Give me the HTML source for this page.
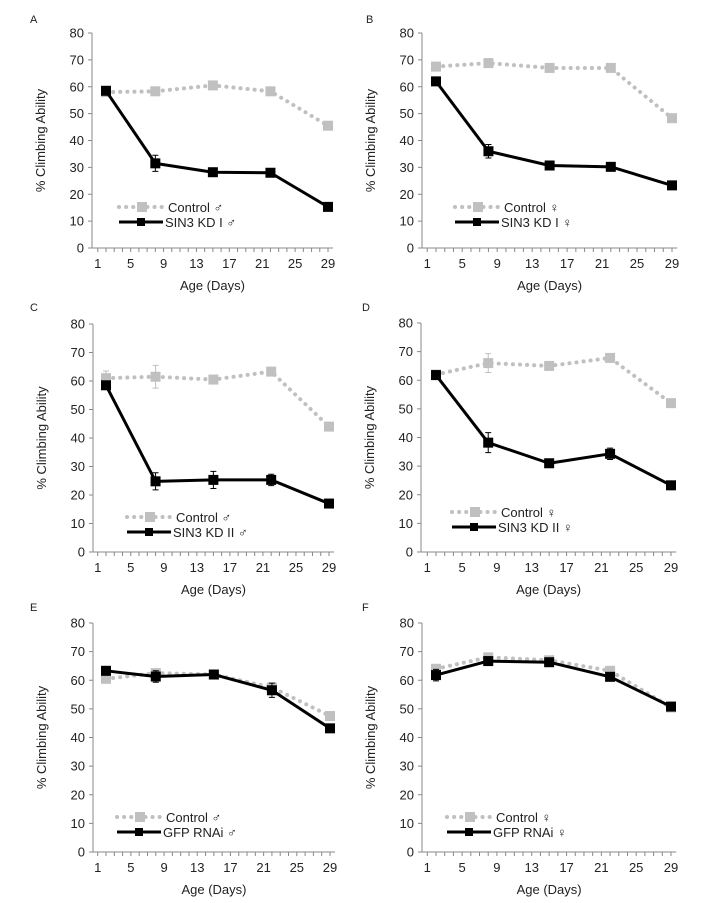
<!DOCTYPE html>
<html><head><meta charset="utf-8">
<style>
html,body{margin:0;padding:0;background:#fff;}
svg{display:block;font-family:"Liberation Sans",Arial,sans-serif;}
</style></head>
<body>
<svg id="fig" width="720" height="903" viewBox="0 0 720 903" xmlns="http://www.w3.org/2000/svg"></svg>
<script>
const days = [2, 8, 15, 22, 29];
const yTicks = [0, 10, 20, 30, 40, 50, 60, 70, 80];
const xTickLabels = [1, 5, 9, 13, 17, 21, 25, 29];
const panelLetters = ["A", "B", "C", "D", "E", "F"];
const controlLabels = ["Control ♂", "Control ♀", "Control ♂", "Control ♀", "Control ♂", "Control ♀"];
const testLabels = ["SIN3 KD I ♂", "SIN3 KD I ♀", "SIN3 KD II ♂", "SIN3 KD II ♀", "GFP RNAi ♂", "GFP RNAi ♀"];
const controlA = [58, 58.3, 60.5, 58.3, 45.5];
const testA = [58.5, 31.5, 28.2, 28, 15.3];
const testErrA = [0.8, 3, 0.8, 0.8, 0.8];
const controlB = [67.5, 68.8, 67, 67, 48.3];
const testB = [62, 36, 30.7, 30.2, 23.3];
const testErrB = [1, 2.5, 1, 1, 1];
const controlC = [61, 61.5, 60.5, 63.3, 44];
const controlErrC = [2.5, 4, 0.5, 0.5, 0.5];
const testC = [58.5, 24.8, 25.3, 25.3, 17];
const testErrC = [0.8, 3, 3, 2, 0.8];
const controlD = [62, 66, 65, 67.8, 52];
const controlErrD = [0.5, 3.3, 0.5, 0.5, 0.5];
const testD = [61.8, 38.2, 31, 34.3, 23.3];
const testErrD = [1.5, 3.5, 1, 2, 1.5];
const controlE = [60.5, 62.5, 62, 57.5, 47.5];
const testE = [63.3, 61.3, 62, 56.5, 43.2];
const testErrE = [1.5, 2, 1.2, 2.5, 0.8];
const controlF = [64, 68, 67, 63.3, 50.5];
const testF = [61.8, 66.7, 66.3, 61.2, 50.8];
const testErrF = [2, 0.8, 0.8, 0.8, 0.8];

const controls = [controlA, controlB, controlC, controlD, controlE, controlF];
const controlErrs = [null, null, controlErrC, controlErrD, null, null];
const tests = [testA, testB, testC, testD, testE, testF];
const testErrs = [testErrA, testErrB, testErrC, testErrD, testErrE, testErrF];

// layout per panel: axis x, y0 pixel, y80 pixel, day2 pixel, day29 pixel, legend line x, legend y
const layout = [
  {ax:92, y0:248, y80:33, d2:106, d29:328, lx:119, ly:207, lx0:30, ly0:23},
  {ax:422, y0:248, y80:33, d2:436, d29:672, lx:455, ly:207, lx0:366, ly0:23},
  {ax:93, y0:552, y80:324, d2:106, d29:329, lx:127, ly:517, lx0:30, ly0:311},
  {ax:421, y0:552, y80:323, d2:436, d29:671, lx:452, ly:512, lx0:362, ly0:311},
  {ax:93, y0:852, y80:623, d2:106, d29:330, lx:117, ly:817, lx0:30, ly0:611},
  {ax:422, y0:852, y80:623, d2:436, d29:671, lx:447, ly:817, lx0:362, ly0:611}
];

const NS = "http://www.w3.org/2000/svg";
const svg = document.getElementById("fig");
function mk(tag, attrs, parent) {
  const e = document.createElementNS(NS, tag);
  for (const k in attrs) e.setAttribute(k, attrs[k]);
  (parent || svg).appendChild(e);
  return e;
}
const GRAY = "#c0c0c0";

for (let p = 0; p < 6; p++) {
  const L = layout[p];
  const g = mk("g", {});
  
  
  const xs = d => L.d2 + (d - 2) * (L.d29 - L.d2) / 27;
  const ys = v => L.y0 - v * (L.y0 - L.y80) / 80;
  const xEnd = xs(29.6);

  const lt = mk("text", {x: L.lx0, y: L.ly0, "font-size": 11, fill: "#222"}, g);
  lt.textContent = panelLetters[p];
  
  

  // axes
  const ya = mk("line", {x1: L.ax, y1: L.y80, x2: L.ax, y2: L.y0, stroke: "#888", "stroke-width": 1}, g);
  
  
  const xa = mk("line", {x1: L.ax, y1: L.y0, x2: xEnd, y2: L.y0, stroke: "#888", "stroke-width": 1}, g);
  
  

  yTicks.forEach(v => {
    mk("line", {x1: L.ax - 4, y1: ys(v), x2: L.ax, y2: ys(v), stroke: "#888"}, g);
    const t = mk("text", {x: L.ax - 8, y: ys(v) + 4.5, "font-size": 13, "text-anchor": "end", fill: "#222"}, g);
    t.textContent = v;
    
    
  });
  for (let d = 1; d <= 29; d++) {
    mk("line", {x1: xs(d), y1: L.y0, x2: xs(d), y2: L.y0 + 4, stroke: "#888"}, g);
  }
  xTickLabels.forEach(d => {
    const t = mk("text", {x: xs(d), y: L.y0 + 20, "font-size": 13, "text-anchor": "middle", fill: "#222"}, g);
    t.textContent = d;
    
    
  });
  const xt = mk("text", {x: (L.ax + xEnd) / 2, y: L.y0 + 42, "font-size": 13, "text-anchor": "middle", fill: "#222"}, g);
  xt.textContent = "Age (Days)";
  
  
  const ytx = L.ax - 47, yty = (L.y0 + L.y80) / 2;
  const yt = mk("text", {x: ytx, y: yty, "font-size": 13, "text-anchor": "middle", fill: "#222", transform: `rotate(-90 ${ytx} ${yty})`}, g);
  yt.textContent = "% Climbing Ability";
  
  

  // control series
  const c = controls[p], ce = controlErrs[p];
  if (ce) days.forEach((d, i) => {
    const x = xs(d);
    mk("path", {d: `M${x} ${ys(c[i]-ce[i])}V${ys(c[i]+ce[i])}M${x-3} ${ys(c[i]-ce[i])}h6M${x-3} ${ys(c[i]+ce[i])}h6`, stroke: GRAY, "stroke-width": 1, fill: "none"}, g);
  });
  const cl = mk("polyline", {points: days.map((d, i) => xs(d) + "," + ys(c[i])).join(" "), fill: "none", stroke: GRAY, "stroke-width": 4, "stroke-dasharray": "0.1 7", "stroke-linecap": "round"}, g);
  
  
  days.forEach((d, i) => {
    const r = mk("rect", {x: xs(d) - 5, y: ys(c[i]) - 5, width: 10, height: 10, fill: GRAY}, g);
    
    
  });

  // test series
  const s = tests[p], se = testErrs[p];
  days.forEach((d, i) => {
    const x = xs(d);
    mk("path", {d: `M${x} ${ys(s[i]-se[i])}V${ys(s[i]+se[i])}M${x-3} ${ys(s[i]-se[i])}h6M${x-3} ${ys(s[i]+se[i])}h6`, stroke: "#000", "stroke-width": 1, fill: "none"}, g);
  });
  const tl = mk("polyline", {points: days.map((d, i) => xs(d) + "," + ys(s[i])).join(" "), fill: "none", stroke: "#000", "stroke-width": 3, "stroke-linejoin": "round"}, g);
  
  
  days.forEach((d, i) => {
    const r = mk("rect", {x: xs(d) - 5, y: ys(s[i]) - 5, width: 10, height: 10, fill: "#000"}, g);
    
    
  });

  // legend
  const lg = mk("g", {}, g);
  
  
  mk("line", {x1: L.lx, y1: L.ly, x2: L.lx + 44, y2: L.ly, stroke: GRAY, "stroke-width": 4, "stroke-dasharray": "0.1 7", "stroke-linecap": "round"}, lg);
  mk("rect", {x: L.lx + 18, y: L.ly - 5, width: 10, height: 10, fill: GRAY}, lg);
  const t1 = mk("text", {x: L.lx + 49, y: L.ly + 5, "font-size": 13, fill: "#222"}, lg);
  t1.textContent = controlLabels[p];
  
  
  mk("line", {x1: L.lx, y1: L.ly + 15, x2: L.lx + 44, y2: L.ly + 15, stroke: "#000", "stroke-width": 3}, lg);
  mk("rect", {x: L.lx + 18, y: L.ly + 11, width: 8, height: 8, fill: "#000"}, lg);
  const t2 = mk("text", {x: L.lx + 46, y: L.ly + 20, "font-size": 13, fill: "#222"}, lg);
  t2.textContent = testLabels[p];
  
  
}
</script>
</body></html>
